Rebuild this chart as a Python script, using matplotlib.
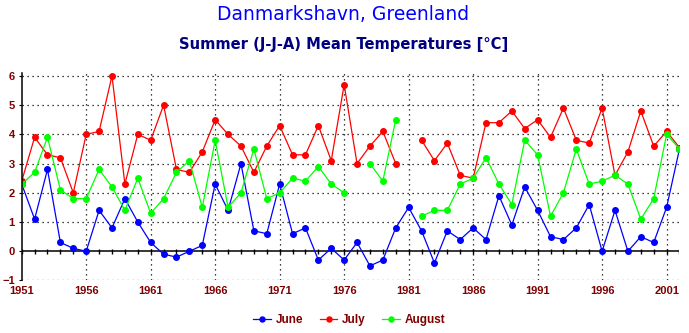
import numpy as np
import matplotlib
matplotlib.use('Agg')
import matplotlib.pyplot as pl

nan = np.nan
years = list(range(1951, 2003))

june = [2.3, 1.1, 2.8, 0.3, 0.1, 0.0, 1.4, 0.8, 1.8, 1.0,
        0.3, -0.1, -0.2, 0.0, 0.2, 2.3, 1.4, 3.0, 0.7, 0.6,
        2.3, 0.6, 0.8, -0.3, 0.1, -0.3, 0.3, -0.5, -0.3, 0.8,
        1.5, 0.7, -0.4, 0.7, 0.4, 0.8, 0.4, 1.9, 0.9, 2.2,
        1.4, 0.5, 0.4, 0.8, 1.6, 0.0, 1.4, 0.0, 0.5, 0.3,
        1.5, 3.5]
july = [2.4, 3.9, 3.3, 3.2, 2.0, 4.0, 4.1, 6.0, 2.3, 4.0,
        3.8, 5.0, 2.8, 2.7, 3.4, 4.5, 4.0, 3.6, 2.7, 3.6,
        4.3, 3.3, 3.3, 4.3, 3.1, 5.7, 3.0, 3.6, 4.1, 3.0,
        nan, 3.8, 3.1, 3.7, 2.6, 2.5, 4.4, 4.4, 4.8, 4.2,
        4.5, 3.9, 4.9, 3.8, 3.7, 4.9, 2.6, 3.4, 4.8, 3.6,
        4.1, 3.55]
august = [2.3, 2.7, 3.9, 2.1, 1.8, 1.8, 2.8, 2.2, 1.4, 2.5,
          1.3, 1.8, 2.7, 3.1, 1.5, 3.8, 1.5, 2.0, 3.5, 1.8,
          2.0, 2.5, 2.4, 2.9, 2.3, 2.0, nan, 3.0, 2.4, 4.5,
          nan, 1.2, 1.4, 1.4, 2.3, 2.5, 3.2, 2.3, 1.6, 3.8,
          3.3, 1.2, 2.0, 3.5, 2.3, 2.4, 2.6, 2.3, 1.1, 1.8,
          4.0, 3.5]
tick_years = list(range(1951, 2002, 5))
y_ticks = list(range(-1, 7))

series = [('June', june, '#0000ff'),
          ('July', july, '#ff0000'),
          ('August', august, '#00ff00')]

dark_red = '#800000'

fig = pl.figure(figsize=(6.89, 3.33), dpi=100)
ax = fig.add_axes([0.0315, 0.1577, 0.9547, 0.6231])

for name, vals, col in series:
    ax.plot(years, vals, '-o', color=col, lw=0.9, ms=4.0, label=name)

ax.set_xlim(1951, 2002)
ax.set_ylim(-1, 6.1)

# dotted grid
for yv in y_ticks:
    if yv != 0:
        ax.axhline(yv, color='black', ls=(0, (1, 3)), lw=0.9, zorder=0)
for xv in tick_years[1:]:
    ax.axvline(xv, color='black', ls=(0, (1, 3)), lw=0.9, zorder=0)

# zero line with yearly ticks
ax.axhline(0, color='black', lw=1.1, zorder=1)
ax.vlines(years, -0.09, 0.09, color='black', lw=1.0, zorder=1)

for s in ['top', 'right', 'bottom']:
    ax.spines[s].set_visible(False)
ax.spines['left'].set_linewidth(1.1)

ax.set_xticks(tick_years)
ax.set_yticks(y_ticks)
ax.tick_params(axis='x', length=0, pad=4)
ax.tick_params(axis='y', length=2, pad=3)
for lab in ax.get_xticklabels() + ax.get_yticklabels():
    lab.set_color(dark_red)
    lab.set_fontweight('bold')
    lab.set_fontfamily('Liberation Sans')
    lab.set_fontsize(8)

fig.text(0.4985, 0.955, 'Danmarkshavn, Greenland', ha='center', va='center',
         color='#0000ff', fontsize=13.5, family='DejaVu Sans')
fig.text(0.4985, 0.867, 'Summer (J-J-A) Mean Temperatures [°C]', ha='center',
         va='center', color='#000080', fontsize=10.6, fontweight='bold',
         family='DejaVu Sans')

leg = fig.legend(loc='center', bbox_to_anchor=(0.507, 0.04), ncol=3,
                 frameon=False, handlelength=1.5, handletextpad=0.4,
                 columnspacing=1.4, markerscale=0.9,
                 prop={'family': 'Liberation Sans', 'weight': 'bold', 'size': 8.5})
for t in leg.get_texts():
    t.set_color(dark_red)

fig.savefig('out.png', dpi=100)
